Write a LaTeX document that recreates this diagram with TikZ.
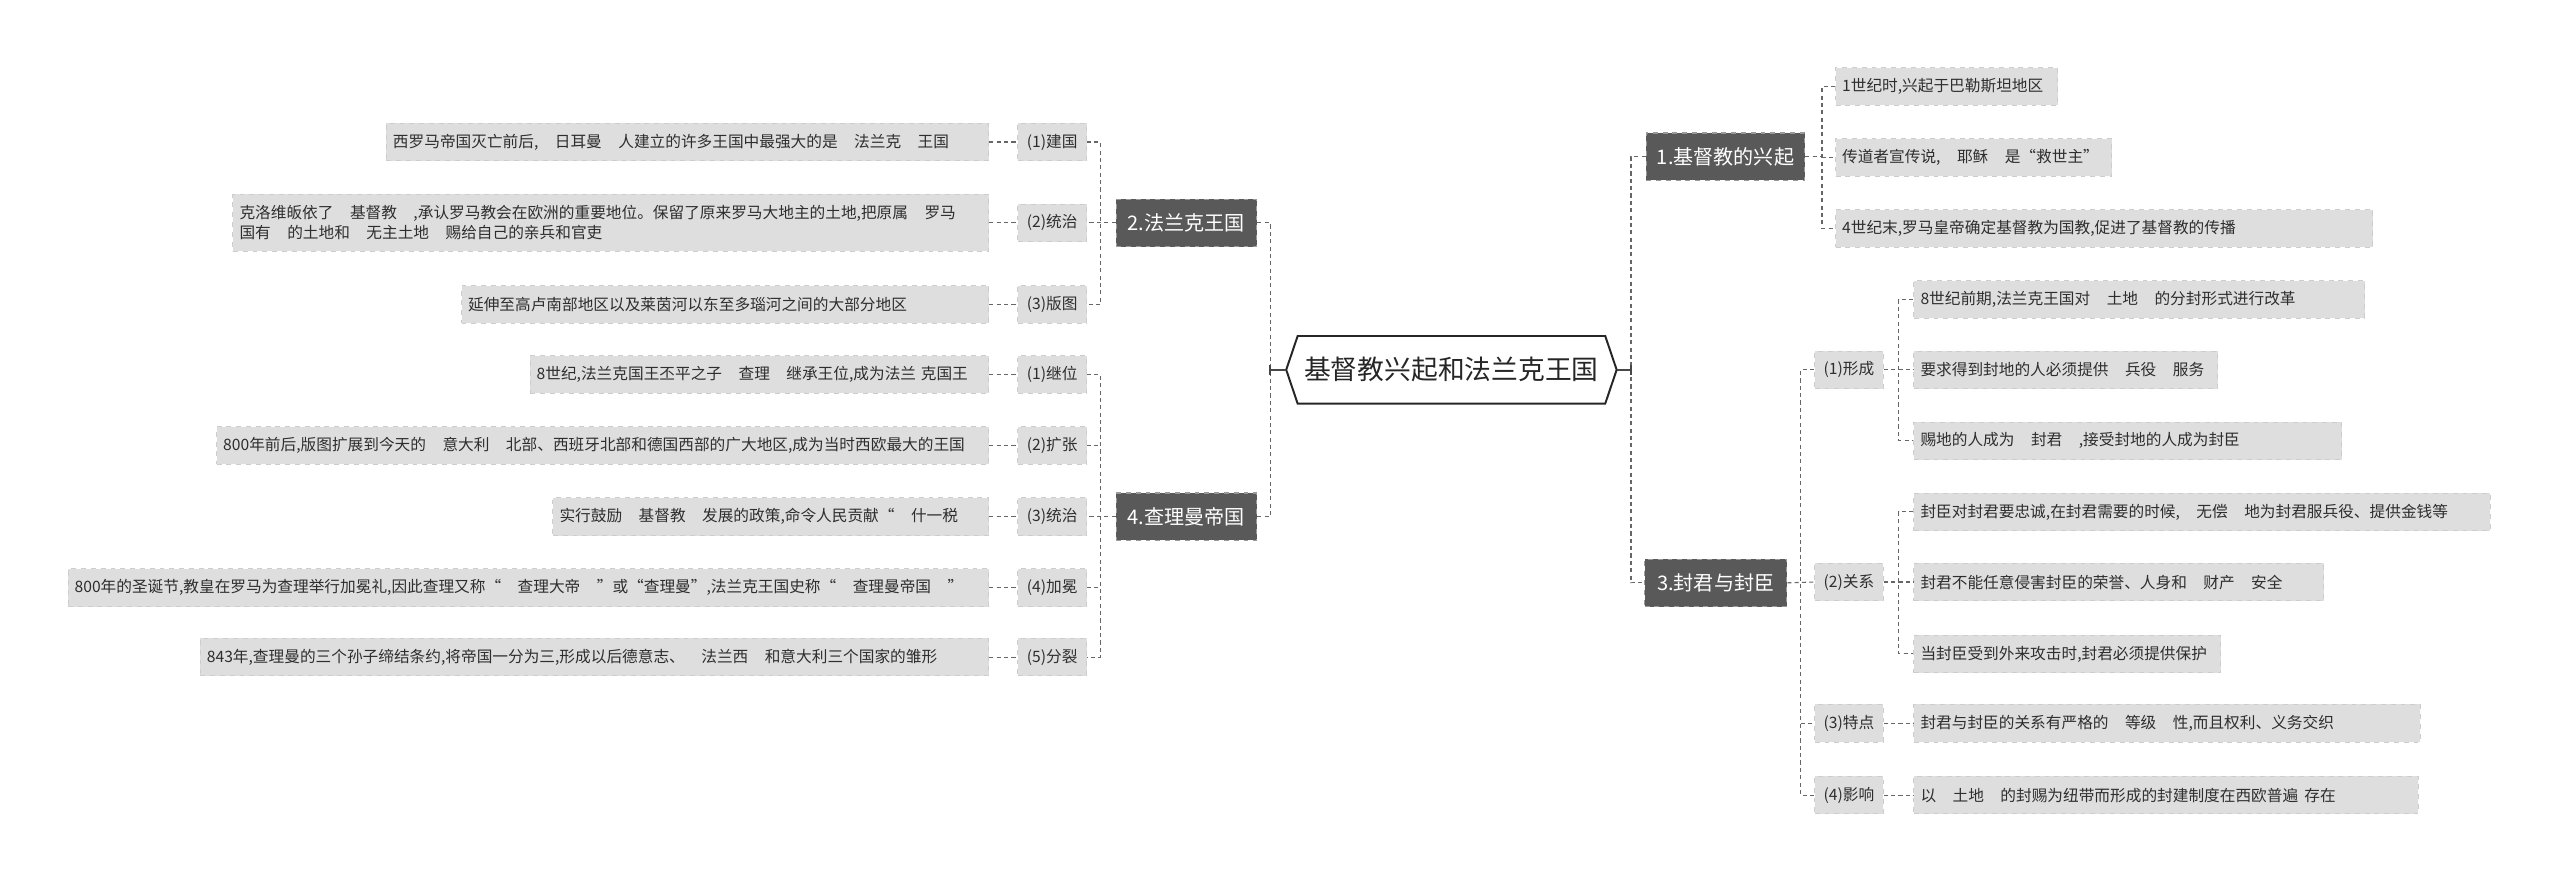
\documentclass[tikz,border=0pt]{standalone}
\usepackage{fontspec}
\setmainfont{Noto Sans CJK SC}
\definecolor{mainfill}{HTML}{595959}
\definecolor{mainborder}{HTML}{9A9A9A}
\definecolor{leaffill}{HTML}{DEDEDE}
\definecolor{leafborder}{HTML}{CDCDCD}
\definecolor{linecol}{HTML}{666666}
\definecolor{textdark}{HTML}{2E2E2E}
\newcommand\gapx{\hspace{1.05em}}
\begin{document}
\begin{tikzpicture}[x=1pt,y=-1pt,
  conn/.style={draw=linecol, line width=0.7pt, dash pattern=on 2.5pt off 2pt},
  solidc/.style={draw=linecol!70!black, line width=1pt},
  hexline/.style={draw=black!85, line width=1.2pt, fill=white},
  centernode/.style={minimum width=188pt, minimum height=41pt, inner sep=0pt,
    font=\fontsize{16.4}{18}\selectfont, text=black!85},
  mainnode/.style={fill=mainfill, draw=mainborder, dashed, line width=0.7pt,
    text=white, font=\fontsize{12.3}{14}\selectfont, minimum height=29pt, inner xsep=5pt, inner ysep=0pt},
  subnode/.style={fill=leaffill, draw=leafborder, dashed, line width=0.6pt,
    text=textdark, font=\fontsize{9.6}{12}\selectfont, minimum width=42pt, minimum height=23pt, inner sep=0pt},
  leafR/.style={fill=leaffill, draw=leafborder, dashed, line width=0.6pt,
    text=textdark, font=\fontsize{9.6}{12.4}\selectfont, minimum height=23pt,
    inner xsep=4pt, inner ysep=0pt, align=left, anchor=west, text width=#1-8pt},
  leafL/.style={fill=leaffill, draw=leafborder, dashed, line width=0.6pt,
    text=textdark, font=\fontsize{9.6}{12.4}\selectfont, minimum height=23pt,
    inner xsep=4pt, inner ysep=0pt, align=left, anchor=east, text width=#1-8pt}
]
\useasboundingbox (0,0) rectangle (1568,540);

% centre
\node[centernode] (c) at (889,226.5) {基督教兴起和法兰克王国};
\coordinate (cl) at ([xshift=-7pt]c.west);
\coordinate (cr) at ([xshift=7pt]c.east);
\draw[hexline] (c.north west) -- (c.north east) -- (cr) -- (c.south east) -- (c.south west) -- (cl) -- cycle;
\node[centernode] at (c) {基督教兴起和法兰克王国};

\coordinate (jl) at (778,226.5);
\coordinate (jr) at (999,226.5);
\coordinate (vL) at (674,0);
\coordinate (vR1) at (1116,0);
\coordinate (vR3) at (1103,0);
\coordinate (vR31) at (1163,0);

% main nodes
\node[mainnode, anchor=west, minimum width=97pt] (n1) at (1008,96) {1.基督教的兴起};
\node[mainnode, anchor=west, minimum width=87pt] (n3) at (1007,357) {3.封君与封臣};
\node[mainnode, anchor=east, minimum width=86pt] (n2) at (770,136.5) {2.法兰克王国};
\node[mainnode, anchor=east, minimum width=86pt] (n4) at (770,316.5) {4.查理曼帝国};

% right: node 1 leaves
\node[leafR=136pt] (l11) at (1124,53) {\mbox{1世纪时,兴起于巴勒斯坦地区}};
\node[leafR=169pt] (l12) at (1124,96.5) {\mbox{传道者宣传说,\gapx 耶稣\gapx 是“救世主”}};
\node[leafR=329pt] (l13) at (1124,140) {\mbox{4世纪末,罗马皇帝确定基督教为国教,促进了基督教的传播}};

% right: node 3 sub nodes
\node[subnode] (s31) at (1132.5,226.5) {(1)形成};
\node[subnode] (s32) at (1132.5,356.5) {(2)关系};
\node[subnode] (s33) at (1132.5,443) {(3)特点};
\node[subnode] (s34) at (1132.5,487) {(4)影响};

\node[leafR=276pt] (l311) at (1172,183.5) {\mbox{8世纪前期,法兰克王国对\gapx 土地\gapx 的分封形式进行改革}};
\node[leafR=186pt] (l312) at (1172,226.5) {\mbox{要求得到封地的人必须提供\gapx 兵役\gapx 服务}};
\node[leafR=262pt] (l313) at (1172,270) {\mbox{赐地的人成为\gapx 封君\gapx ,接受封地的人成为封臣}};
\node[leafR=353pt] (l321) at (1172,313.5) {\mbox{封臣对封君要忠诚,在封君需要的时候,\gapx 无偿\gapx 地为封君服兵役、提供金钱等}};
\node[leafR=251pt] (l322) at (1172,356.5) {\mbox{封君不能任意侵害封臣的荣誉、人身和\gapx 财产\gapx 安全}};
\node[leafR=188pt] (l323) at (1172,400.5) {\mbox{当封臣受到外来攻击时,封君必须提供保护}};
\node[leafR=310pt] (l331) at (1172,443) {\mbox{封君与封臣的关系有严格的\gapx 等级\gapx 性,而且权利、义务交织}};
\node[leafR=309pt] (l341) at (1172,487) {\mbox{以\gapx 土地\gapx 的封赐为纽带而形成的封建制度在西欧普遍\hspace{0.4em}存在}};

% left: node 2 sub nodes
\node[subnode] (s21) at (644.5,87) {(1)建国};
\node[subnode] (s22) at (644.5,136.5) {(2)统治};
\node[subnode] (s23) at (644.5,186.5) {(3)版图};
\node[leafL=369pt] (l21) at (606,87) {\mbox{西罗马帝国灭亡前后,\gapx 日耳曼\gapx 人建立的许多王国中最强大的是\gapx 法兰克\gapx 王国}};
\node[leafL=463pt, minimum height=35pt] (l22) at (606,136.5) {克洛维皈依了\gapx 基督教\gapx ,承认罗马教会在欧洲的重要地位。保留了原来罗马大地主的土地,把原属\gapx 罗马\\国有\gapx 的土地和\gapx 无主土地\gapx 赐给自己的亲兵和官吏};
\node[leafL=323pt] (l23) at (606,186.5) {\mbox{延伸至高卢南部地区以及莱茵河以东至多瑙河之间的大部分地区}};

% left: node 4 sub nodes
\node[subnode] (s41) at (644.5,229.5) {(1)继位};
\node[subnode] (s42) at (644.5,273) {(2)扩张};
\node[subnode] (s43) at (644.5,316.5) {(3)统治};
\node[subnode] (s44) at (644.5,360) {(4)加冕};
\node[subnode] (s45) at (644.5,402.5) {(5)分裂};
\node[leafL=281pt] (l41) at (606,229.5) {\mbox{8世纪,法兰克国王丕平之子\gapx 查理\gapx 继承王位,成为法兰\hspace{0.3em}克国王}};
\node[leafL=473pt] (l42) at (606,273) {\mbox{800年前后,版图扩展到今天的\gapx 意大利\gapx 北部、西班牙北部和德国西部的广大地区,成为当时西欧最大的王国}};
\node[leafL=267pt] (l43) at (606,316.5) {\mbox{实行鼓励\gapx 基督教\gapx 发展的政策,命令人民贡献“\gapx 什一税}};
\node[leafL=564pt] (l44) at (606,360) {\mbox{800年的圣诞节,教皇在罗马为查理举行加冕礼,因此查理又称“\gapx 查理大帝\gapx ”或“查理曼”,法兰克王国史称“\gapx 查理曼帝国\gapx ”}};
\node[leafL=483pt] (l45) at (606,402.5) {\mbox{843年,查理曼的三个孙子缔结条约,将帝国一分为三,形成以后德意志、\gapx 法兰西\gapx 和意大利三个国家的雏形}};

% connectors: centre
\draw[conn] (n2.east) -- (n2.east -| jl) -- (n4.east -| jl) -- (n4.east);
\draw[solidc] (cl) -- (jl);
\draw[solidc] ([yshift=-3pt]jl) -- ([yshift=3pt]jl);
\draw[conn] (n1.west) -- (n1.west -| jr) -- (n3.west -| jr) -- (n3.west);
\draw[solidc] (cr) -- (jr);
\draw[solidc] ([yshift=-3pt]jr) -- ([yshift=3pt]jr);

% node 1
\draw[conn] (l11.west) -- (l11.west -| vR1) -- (l13.west -| vR1) -- (l13.west);
\draw[conn] (n1.east) -- (n1.east -| vR1);
\draw[conn] (l12.west -| vR1) -- (l12.west);

% node 3
\draw[conn] (s31.west) -- (s31.west -| vR3) -- (s34.west -| vR3) -- (s34.west);
\draw[conn] (n3.east) -- (s32.west);
\draw[conn] (s33.west -| vR3) -- (s33.west);
\draw[conn] (l311.west) -- (l311.west -| vR31) -- (l313.west -| vR31) -- (l313.west);
\draw[conn] (s31.east) -- (l312.west);
\draw[conn] (l321.west) -- (l321.west -| vR31) -- (l323.west -| vR31) -- (l323.west);
\draw[conn] (s32.east) -- (l322.west);
\draw[conn] (s33.east) -- (l331.west);
\draw[conn] (s34.east) -- (l341.west);

% node 2
\draw[conn] (s21.east) -- (s21.east -| vL) -- (s23.east -| vL) -- (s23.east);
\draw[conn] (n2.west) -- (s22.east);
\draw[conn] (l21.east) -- (s21.west);
\draw[conn] (l22.east) -- (s22.west);
\draw[conn] (l23.east) -- (s23.west);

% node 4
\draw[conn] (s41.east) -- (s41.east -| vL) -- (s45.east -| vL) -- (s45.east);
\draw[conn] (s42.east) -- (s42.east -| vL);
\draw[conn] (s44.east) -- (s44.east -| vL);
\draw[conn] (n4.west) -- (s43.east);
\draw[conn] (l41.east) -- (s41.west);
\draw[conn] (l42.east) -- (s42.west);
\draw[conn] (l43.east) -- (s43.west);
\draw[conn] (l44.east) -- (s44.west);
\draw[conn] (l45.east) -- (s45.west);
\end{tikzpicture}
\end{document}
